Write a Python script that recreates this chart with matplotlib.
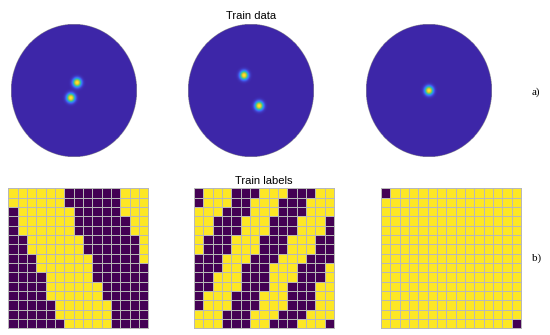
import numpy as np
import matplotlib
matplotlib.use('Agg')
import matplotlib.pyplot as plt
from matplotlib.colors import LinearSegmentedColormap

# ==== data ====
# point sources inside the unit disc (x, y), one list per panel
sources = [
    [(0.05, 0.12), (-0.05, -0.11)],
    [(-0.11, 0.23), (0.13, -0.23)],
    [(0.0, 0.0)],
]
sigma = 0.042

# 15x15 labels, 1 = yellow, 0 = purple, row 0 at the top
labels_1 = [
    '111111000000111',
    '111111000000111',
    '011111100000111',
    '011111100000011',
    '011111100000011',
    '001111110000001',
    '001111110000001',
    '000111111000001',
    '000111111000000',
    '000011111000000',
    '000011111100000',
    '000011111100000',
    '000001111110000',
    '000001111110000',
    '000000111110000',
]
labels_2 = [
    '011100011100011',
    '011100111000111',
    '111000111000111',
    '110001110001110',
    '110001110001110',
    '100011100011100',
    '100011100011100',
    '000111000111000',
    '000110001110001',
    '001110001110001',
    '001110001100011',
    '011100011100011',
    '011100011100011',
    '111000111000111',
    '111000110001110',
]
labels_3 = ['0' + '1' * 14] + ['1' * 15] * 13 + ['1' * 14 + '0']

# parula-like map
parula = LinearSegmentedColormap.from_list('parula', [
    (0.2422, 0.1504, 0.6603),
    (0.2647, 0.4030, 0.9935),
    (0.1085, 0.6669, 0.8734),
    (0.2809, 0.7964, 0.5266),
    (0.6603, 0.7917, 0.2212),
    (0.9892, 0.7300, 0.2438),
    (0.9769, 0.9839, 0.0805),
])

fig = plt.figure(figsize=(5.5, 3.35), dpi=100)

# ==== top row: train data ====
top_left = [0.020, 0.342, 0.665]
n = 400
xx, yy = np.meshgrid(np.linspace(-1, 1, n), np.linspace(-1, 1, n))
for i, src in enumerate(sources):
    ax = fig.add_axes([top_left[i], 0.531, 0.229, 0.397])
    z = np.zeros_like(xx)
    for (sx, sy) in src:
        z += np.exp(-((xx - sx) ** 2 + (yy - sy) ** 2) / (2 * sigma ** 2))
    z = z / z.max()
    z[xx ** 2 + yy ** 2 > 1] = np.nan
    ax.imshow(z, cmap=parula, vmin=0, vmax=1, origin='lower',
              extent=(-1, 1, -1, 1), aspect='auto', interpolation='bilinear')
    ax.axis('off')
    if i == 1:
        ax.set_title('Train data', fontsize=8, family='Liberation Sans', pad=4)

# ==== bottom row: train labels ====
bot_left = [0.0151, 0.353, 0.6927]
for i, lab in enumerate([labels_1, labels_2, labels_3]):
    ax = fig.add_axes([bot_left[i], 0.02, 0.2545, 0.418])
    arr = np.array([[int(c) for c in row] for row in lab])
    ax.pcolormesh(arr, cmap='viridis', vmin=0, vmax=1,
                  edgecolors='#b8b8b8', linewidth=0.45, clip_on=False)
    ax.set_xlim(0, 15)
    ax.set_ylim(15, 0)
    ax.axis('off')
    if i == 1:
        ax.set_title('Train labels', fontsize=8, family='Liberation Sans', pad=3)

fig.text(0.967, 0.725, 'a)', fontsize=8, family='Liberation Serif', ha='left', va='center')
fig.text(0.967, 0.230, 'b)', fontsize=8, family='Liberation Serif', ha='left', va='center')

plt.savefig('out.png', dpi=100)
